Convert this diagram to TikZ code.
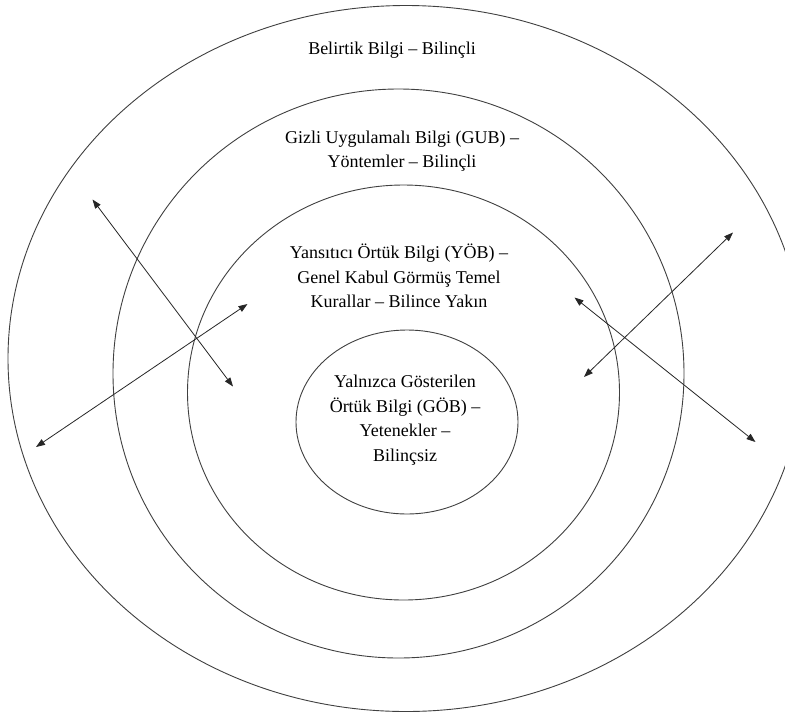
\documentclass[tikz,border=0pt]{standalone}
\usepackage{fontspec}
\setmainfont{Liberation Serif}
\usetikzlibrary{arrows.meta}
\begin{document}
\begin{tikzpicture}[x=1pt,y=-1pt,
  ring/.style={draw=black!75,line width=0.9pt},
  link/.style={draw=black!85,line width=0.8pt,{Triangle[length=9pt,width=6.5pt]}-{Triangle[length=9pt,width=6.5pt]}},
  label/.style={align=center,font=\fontsize{18}{24.5}\selectfont,inner sep=0pt}]
\useasboundingbox (0,0) rectangle (785,713);
\fill[white] (0,0) rectangle (785,713);
% nested knowledge layers
\draw[ring] (406,358.5) ellipse [x radius=398,y radius=353];
\draw[ring] (398.5,373.5) ellipse [x radius=285.5,y radius=284.5];
\draw[ring] (403.5,392.5) ellipse [x radius=216,y radius=207.5];
\draw[ring] (407,422) ellipse [x radius=111,y radius=92];
% layer captions
\node[label] (t1) at (392,50) {Belirtik Bilgi – Bilinçli};
\node[label] (t2) at (402,151) {Gizli Uygulamalı Bilgi (GUB) –\\Yöntemler – Bilinçli};
\node[label] (t3) at (399,276) {Yansıtıcı Örtük Bilgi (YÖB) –\\Genel Kabul Görmüş Temel\\Kurallar – Bilince Yakın};
\node[label] (t4) at (405,420) {Yalnızca Gösterilen\\Örtük Bilgi (GÖB) –\\Yetenekler –\\Bilinçsiz};
% end points of the two-way arrows
\coordinate (a1) at (92.5,199.5);
\coordinate (b1) at (233,386.5);
\coordinate (a2) at (36,447);
\coordinate (b2) at (247.5,304);
\coordinate (a3) at (584,377);
\coordinate (b3) at (733,232.5);
\coordinate (a4) at (574.5,297.5);
\coordinate (b4) at (755.5,442);
\draw[link] (a1) -- (b1);
\draw[link] (a2) -- (b2);
\draw[link] (a3) -- (b3);
\draw[link] (a4) -- (b4);
\end{tikzpicture}
\end{document}
